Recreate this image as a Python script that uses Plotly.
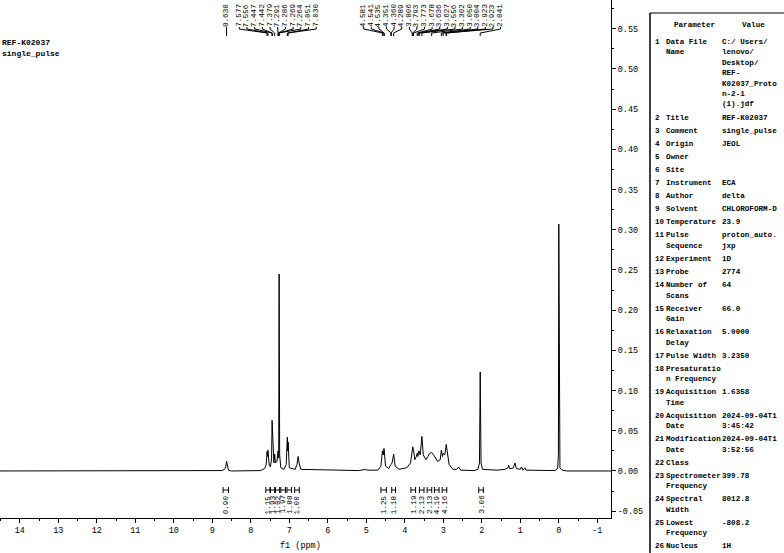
import plotly.graph_objects as go

# ---------------- data ----------------
ppm = [14.6, 9.0, 8.75, 8.68, 8.65, 8.63, 8.61, 8.58, 8.50,
       7.75, 7.64, 7.60, 7.577, 7.566, 7.556, 7.52, 7.49, 7.46, 7.447, 7.442, 7.42,
       7.40, 7.379, 7.36, 7.32, 7.291, 7.286, 7.275, 7.264, 7.25, 7.22,
       7.14, 7.08, 7.051, 7.040, 7.030, 7.00, 6.85, 6.80, 6.77, 6.74, 6.70,
       5.2, 5.02, 4.98, 4.70, 4.62, 4.581, 4.56, 4.541, 4.535, 4.50, 4.42,
       4.36, 4.33, 4.289, 4.25, 4.15,
       3.95, 3.85, 3.806, 3.793, 3.773, 3.74, 3.70, 3.678, 3.66, 3.636, 3.627, 3.60,
       3.556, 3.52, 3.45, 3.40, 3.35, 3.302, 3.25, 3.15, 3.08, 3.050, 3.02, 3.004,
       2.96, 2.923, 2.90, 2.85, 2.75, 2.65, 2.60, 2.55,
       2.20, 2.10, 2.06, 2.041, 2.02, 1.98,
       1.60, 1.40, 1.32, 1.30, 1.28, 1.24, 1.18, 1.14, 1.10, 1.00, 0.97, 0.93, 0.88, 0.85, 0.80,
       0.10, 0.03, 0.01, 0.0, -0.01, -0.03, -0.06, -0.10, -0.20, -1.4]
intensity = [0.0, 0.0, 0.0005, 0.002, 0.005, 0.012, 0.005, 0.001, 0.0,
             0.0005, 0.003, 0.008, 0.024, 0.018, 0.026, 0.007, 0.005, 0.015, 0.063, 0.055, 0.012,
             0.010, 0.021, 0.010, 0.012, 0.025, 0.022, 0.016, 0.245, 0.020, 0.004,
             0.002, 0.008, 0.042, 0.025, 0.036, 0.004, 0.002, 0.008, 0.018, 0.009, 0.002,
             0.0005, 0.002, 0.001, 0.001, 0.006, 0.025, 0.020, 0.028, 0.026, 0.006, 0.003,
             0.008, 0.010, 0.021, 0.006, 0.002,
             0.004, 0.010, 0.024, 0.030, 0.026, 0.014, 0.018, 0.022, 0.018, 0.025, 0.024, 0.020,
             0.043, 0.020, 0.014, 0.018, 0.022, 0.023, 0.020, 0.012, 0.014, 0.026, 0.018, 0.022,
             0.020, 0.033, 0.025, 0.008, 0.002, 0.002, 0.005, 0.001,
             0.0005, 0.002, 0.010, 0.123, 0.010, 0.002,
             0.001, 0.002, 0.004, 0.007, 0.003, 0.003, 0.004, 0.010, 0.003, 0.002, 0.005, 0.001, 0.004, 0.001, 0.001,
             0.0005, 0.003, 0.020, 0.307, 0.020, 0.004, 0.002, 0.001, 0.0, 0.0]

peak_labels_a = ["8.630"]
peak_labels_b = ["7.577", "7.556", "7.447", "7.442", "7.379", "7.291", "7.286",
                 "7.269", "7.264", "7.051", "7.030"]
peak_labels_c = ["4.581", "4.541", "4.535", "4.351", "4.360", "4.289", "3.806", "3.793",
                 "3.773", "3.678", "3.636", "3.627", "3.556", "3.302", "3.050", "3.004",
                 "2.923", "2.923", "2.041"]

integ_from = [8.72, 7.61, 7.49, 7.36, 7.22, 7.06, 6.86, 4.62, 4.34, 3.84, 3.62, 3.42, 3.23, 3.03, 2.08]
integ_to   = [8.58, 7.50, 7.38, 7.25, 7.10, 6.94, 6.74, 4.48, 4.24, 3.72, 3.50, 3.30, 3.11, 2.91, 1.96]
integ_vals = ["0.90", "1.15", "1.93", "1.02", "1.97", "1.88", "1.00", "1.25", "1.18",
              "1.19", "2.13", "2.13", "4.19", "4.16", "3.06"]

x_ticks = [14, 13, 12, 11, 10, 9, 8, 7, 6, 5, 4, 3, 2, 1, 0, -1]
y_ticks = [-0.05, 0.0, 0.05, 0.10, 0.15, 0.20, 0.25, 0.30, 0.35, 0.40, 0.45, 0.50, 0.55]

table_params = [["Data File", "Name"], ["Title"], ["Comment"], ["Origin"], ["Owner"], ["Site"],
                ["Instrument"], ["Author"], ["Solvent"], ["Temperature"], ["Pulse", "Sequence"],
                ["Experiment"], ["Probe"], ["Number of", "Scans"], ["Receiver", "Gain"],
                ["Relaxation", "Delay"], ["Pulse Width"], ["Presaturatio", "n Frequency"],
                ["Acquisition", "Time"], ["Acquisition", "Date"], ["Modification", "Date"],
                ["Class"], ["Spectrometer", "Frequency"], ["Spectral", "Width"],
                ["Lowest", "Frequency"], ["Nucleus"]]
table_values = [["C:/ Users/", "lenovo/", "Desktop/", "REF-", "K02037_Proto", "n-2-1", "(1).jdf"],
                ["REF-K02037"], ["single_pulse"], ["JEOL"], [], [], ["ECA"], ["delta"],
                ["CHLOROFORM-D"], ["23.9"], ["proton_auto.", "jxp"], ["1D"], ["2774"], ["64"],
                ["66.0"], ["5.0000"], ["3.2350"], [], ["1.6358"], ["2024-09-04T1", "3:45:42"],
                ["2024-09-04T1", "3:52:56"], [], ["399.78"], ["8012.8"], ["-808.2"], ["1H"]]

# ---------------- layout geometry ----------------
W, H = 784, 553
ML, MR, MT, MB = 0, 173, 0, 35
PW, PH = W - ML - MR, H - MT - MB
X_LEFT, X_RIGHT = 14.514, -1.356
Y_BOT, Y_TOP = -0.0585, 0.5858
PPM_PER_PX = (X_LEFT - X_RIGHT) / PW

def pxx(x):
    return (x - ML) / PW

def pyy(y):
    return 1 - (y - MT) / PH

def yval(ypix):
    return Y_TOP - (ypix - MT) / PH * (Y_TOP - Y_BOT)

FONT = "Liberation Mono"
SMALL = 7.6
def bold(t):
    return "<b>" + t + "</b>"

fig = go.Figure()
fig.add_trace(go.Scatter(x=ppm, y=intensity, mode="lines",
                         line=dict(color="black", width=1), hoverinfo="skip"))

shapes = []
annotations = []

# --- peak labels with connectors ---
def add_group(labels, center_ppm, spacing_px):
    n = len(labels)
    for i, lab in enumerate(labels):
        lx = center_ppm + ((n - 1) / 2 - i) * spacing_px * PPM_PER_PX
        p = float(lab)
        annotations.append(dict(x=lx, xref="x", y=pyy(3), yref="paper", text=lab,
                                textangle=-90, showarrow=False, xanchor="center", yanchor="top",
                                borderpad=0, font=dict(family=FONT, size=SMALL, color="black")))
        shapes.append(dict(type="path", xref="x", yref="paper", line=dict(color="black", width=1),
                           path="M {a},{y0} L {a},{y1} L {b},{y2} L {b},{y3}".format(
                               a=lx, b=p, y0=pyy(27), y1=pyy(29), y2=pyy(33), y3=pyy(36))))

add_group(peak_labels_a, 8.630, 7.6)
add_group(peak_labels_b, 7.30, 7.7)
add_group(peak_labels_c, 3.29, 7.6)

# --- integrals ---
for a, b, v in zip(integ_from, integ_to, integ_vals):
    yb = yval(490)
    shapes.append(dict(type="line", xref="x", yref="y", x0=a, x1=b, y0=yb, y1=yb,
                       line=dict(color="black", width=1)))
    for e in (a, b):
        shapes.append(dict(type="line", xref="x", yref="y", x0=e, x1=e,
                           y0=yval(487), y1=yval(493), line=dict(color="black", width=1)))
    annotations.append(dict(x=(a + b) / 2, xref="x", y=pyy(494), yref="paper", text=v,
                            textangle=-90, showarrow=False, xanchor="center", yanchor="top",
                            borderpad=0, font=dict(family=FONT, size=SMALL, color="black")))

# --- title text top-left ---
annotations.append(dict(x=pxx(0), xref="paper", y=pyy(42), yref="paper", text=bold("REF-K02037"),
                        showarrow=False, xanchor="left", yanchor="middle",
                        font=dict(family=FONT, size=8, color="black")))
annotations.append(dict(x=pxx(0), xref="paper", y=pyy(53), yref="paper", text=bold("single_pulse"),
                        showarrow=False, xanchor="left", yanchor="middle",
                        font=dict(family=FONT, size=8, color="black")))
annotations.append(dict(x=pxx(300), xref="paper", y=pyy(546), yref="paper", text="f1 (ppm)",
                        showarrow=False, xanchor="center", yanchor="middle",
                        font=dict(family=FONT, size=8.5, color="black")))

# --- parameter table ---
TL, TT = 650, 13
shapes.append(dict(type="line", xref="paper", yref="paper", x0=pxx(TL), x1=pxx(784),
                   y0=pyy(TT), y1=pyy(TT), line=dict(color="black", width=1)))
shapes.append(dict(type="line", xref="paper", yref="paper", x0=pxx(TL), x1=pxx(TL),
                   y0=pyy(TT), y1=pyy(553), line=dict(color="black", width=1.5)))
tf = dict(family=FONT, size=SMALL, color="black")
annotations.append(dict(x=pxx(694), xref="paper", y=pyy(25), yref="paper", text=bold("Parameter"),
                        showarrow=False, xanchor="center", yanchor="middle", font=tf))
annotations.append(dict(x=pxx(753), xref="paper", y=pyy(25), yref="paper", text=bold("Value"),
                        showarrow=False, xanchor="center", yanchor="middle", font=tf))
LINE, STEP = 10.4, 13.1
ycur = 42.0
for i, (pl, vl) in enumerate(zip(table_params, table_values)):
    annotations.append(dict(x=pxx(653), xref="paper", y=pyy(ycur), yref="paper", text=bold(str(i + 1)),
                            showarrow=False, xanchor="left", yanchor="middle", font=tf))
    for j, t in enumerate(pl):
        annotations.append(dict(x=pxx(664), xref="paper", y=pyy(ycur + j * LINE), yref="paper",
                                text=bold(t), showarrow=False, xanchor="left", yanchor="middle", font=tf))
    for j, t in enumerate(vl):
        annotations.append(dict(x=pxx(720), xref="paper", y=pyy(ycur + j * LINE), yref="paper",
                                text=bold(t), showarrow=False, xanchor="left", yanchor="middle", font=tf))
    n = max(len(pl), len(vl), 1)
    ycur += (n - 1) * LINE + STEP

fig.update_layout(
    width=W, height=H, margin=dict(l=ML, r=MR, t=MT, b=MB, autoexpand=False),
    paper_bgcolor="white", plot_bgcolor="white", showlegend=False,
    shapes=shapes, annotations=annotations,
    font=dict(family=FONT, size=8, color="black"),
    xaxis=dict(range=[X_LEFT, X_RIGHT], showgrid=False, zeroline=False, showline=True,
               linecolor="black", linewidth=1, ticks="outside", ticklen=4, tickcolor="black",
               tickvals=x_ticks, ticktext=[str(t) for t in x_ticks],
               tickfont=dict(family=FONT, size=8.5),
               minor=dict(dtick=0.5, ticks="outside", ticklen=2, tickcolor="black"),
               automargin=False),
    yaxis=dict(range=[Y_BOT, Y_TOP], side="right", showgrid=False, zeroline=False, showline=True,
               linecolor="black", linewidth=1, ticks="outside", ticklen=4, tickcolor="black",
               tickvals=y_ticks, ticktext=["%.2f" % t for t in y_ticks],
               tickfont=dict(family=FONT, size=8.5),
               minor=dict(dtick=0.025, ticks="outside", ticklen=2, tickcolor="black"),
               automargin=False),
)
fig.write_html("out.html", config={"displayModeBar": False},
               post_script="document.body.style.margin='0px';")
